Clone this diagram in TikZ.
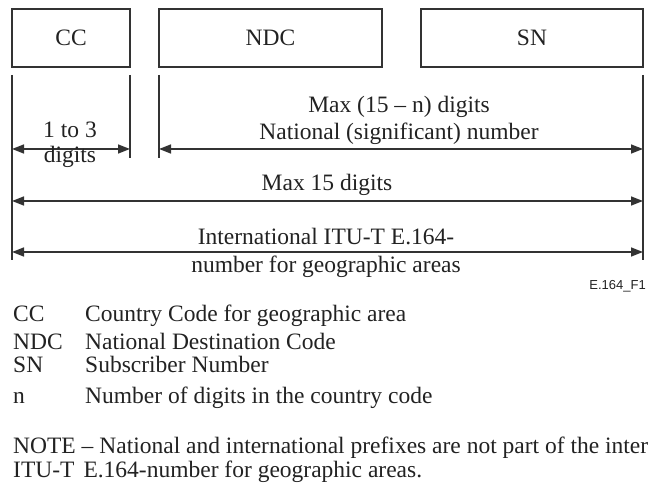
\documentclass[tikz,border=0pt]{standalone}
\usepackage{fontspec}
\setmainfont{Liberation Serif}
\newfontfamily\figfont{Liberation Sans}
\usetikzlibrary{arrows.meta}
\definecolor{ink}{HTML}{333333}
\definecolor{txt}{HTML}{222222}
\begin{document}
\begin{tikzpicture}[x=1pt,y=-1pt,
  every node/.style={text=txt, font=\fontsize{23.5}{26}\selectfont},
  field/.style={draw=ink, line width=1.8pt, minimum height=58pt, inner sep=0pt},
  lbl/.style={anchor=base, inner sep=0pt},
  leg/.style={anchor=base west, inner sep=0pt},
  guide/.style={draw=ink, line width=1.8pt},
  dim/.style={draw=ink, line width=1.6pt, {Triangle[length=12pt,width=9pt]}-{Triangle[length=12pt,width=9pt]}}]
\useasboundingbox (0,0) rectangle (648,486);
\clip (0,0) rectangle (648,486);
% fields
\node[field, minimum width=118pt] (cc) at (71,38) {CC};
\node[field, minimum width=223pt] (ndc) at (270.5,38) {NDC};
\node[field, minimum width=222pt] (sn) at (532,38) {SN};
% guide lines
\coordinate (l1t) at (12,75);  \coordinate (l1b) at (12,260);
\coordinate (l2t) at (130,75); \coordinate (l2b) at (130,158);
\coordinate (l3t) at (159,75); \coordinate (l3b) at (159,158);
\coordinate (l4t) at (643,75); \coordinate (l4b) at (643,260);
\draw[guide] (l1t) -- (l1b);
\draw[guide] (l2t) -- (l2b);
\draw[guide] (l3t) -- (l3b);
\draw[guide] (l4t) -- (l4b);
% arrow ends
\coordinate (a1l) at (12,149);  \coordinate (a1r) at (130,149);
\coordinate (a2l) at (159,149); \coordinate (a2r) at (643,149);
\coordinate (a3l) at (12,201);  \coordinate (a3r) at (643,201);
\coordinate (a4l) at (12,252);  \coordinate (a4r) at (643,252);
\draw[dim] (a1l) -- (a1r);
\draw[dim] (a2l) -- (a2r);
\draw[dim] (a3l) -- (a3r);
\draw[dim] (a4l) -- (a4r);
% dimension labels
\node[lbl] (t1a) at (70,138) {1 to 3};
\node[lbl] (t1b) at (70,163) {digits};
\node[lbl] (t2a) at (399,113) {Max (15 -- n) digits};
\node[lbl] (t2b) at (399,140) {National (significant) number};
\node[lbl] (t3) at (327,191) {Max 15 digits};
\node[lbl] (t4a) at (326,245) {International ITU-T E.164-};
\node[lbl] (t4b) at (326,273) {number for geographic areas};
\node[anchor=base east, inner sep=0pt, font=\figfont\fontsize{13}{15}\selectfont] (fig) at (646,290) {E.164\_F1};
% legend
\node[leg] (k1) at (13,322) {CC};
\node[leg] (d1) at (85,322) {Country Code for geographic area};
\node[leg] (k2) at (13,349) {NDC};
\node[leg] (d2) at (85,349) {National Destination Code};
\node[leg] (k3) at (13,373) {SN};
\node[leg] (d3) at (85,373) {Subscriber Number};
\node[leg] (k4) at (13,403) {n};
\node[leg] (d4) at (85,403) {Number of digits in the country code};
\node[leg] (note1) at (13,453) {NOTE -- National and international prefixes are not part of the international};
\node[leg] (note2) at (13,477) {ITU-T\hspace{9pt}E.164-number for geographic areas.};
\end{tikzpicture}
\end{document}
